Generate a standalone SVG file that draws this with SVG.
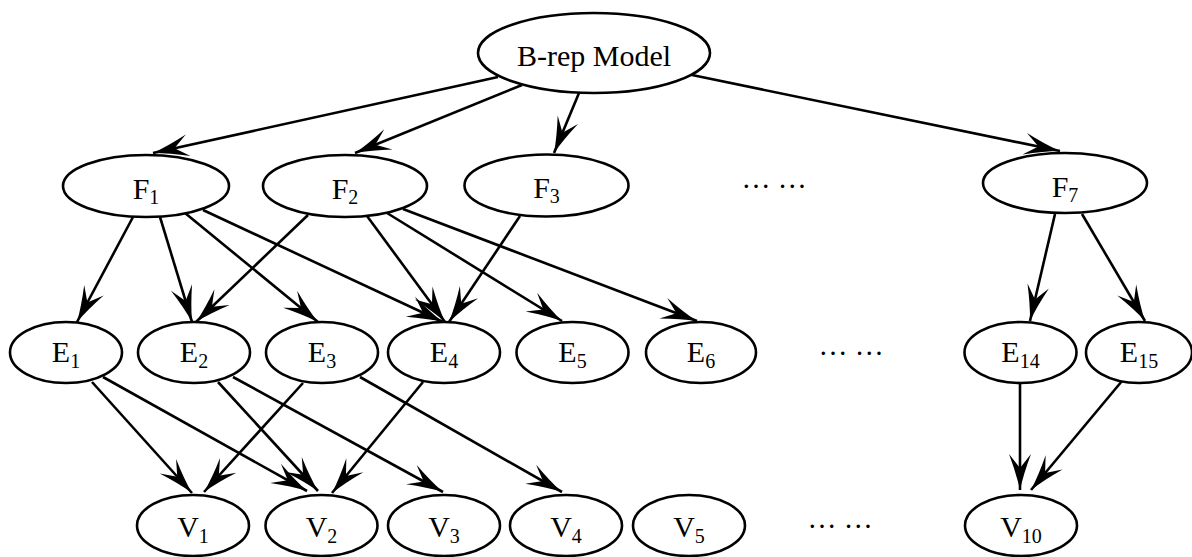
<svg xmlns="http://www.w3.org/2000/svg" width="1192" height="557" viewBox="0 0 1192 557">
<defs>
<style>
.n ellipse{fill:#fff;stroke:#000;stroke-width:2.6}
.n text{font-family:"Liberation Serif","Times New Roman",serif;font-size:30px;fill:#000;text-anchor:middle}
.sub{font-size:20px}
.dots{font-family:"Liberation Serif","Times New Roman",serif;font-size:29px;fill:#000;text-anchor:middle}
#edges path{fill:none;stroke:#000;stroke-width:2.6;marker-end:url(#ah)}
</style>
<marker id="ah" markerUnits="userSpaceOnUse" viewBox="-38 -12 40 24" markerWidth="40" markerHeight="24" refX="0" refY="0" orient="auto">
<path d="M0,0 Q-16,-3.5 -36,-11 L-22,0 L-36,11 Q-16,3.5 0,0 Z" fill="#000"/>
</marker>
</defs>
<rect width="1192" height="557" fill="#fff"/>
<g id="edges">
<path d="M498,77 L153,153"/>
<path d="M522,85 L355,153"/>
<path d="M579,93 L554,153"/>
<path d="M692,75 L1060,151"/>
<path d="M133,217 L77,322"/>
<path d="M160,217 L192,322"/>
<path d="M185,213 L318,322"/>
<path d="M203,210 L443,322"/>
<path d="M308,215 L196,322"/>
<path d="M367,216 L445,322"/>
<path d="M387,213 L562,321"/>
<path d="M403,209 L697,321"/>
<path d="M520,216 L449,322"/>
<path d="M1055,214 L1030,321"/>
<path d="M1082,214 L1145,321"/>
<path d="M92,382 L192,493"/>
<path d="M103,377 L307,491"/>
<path d="M218,382 L318,491"/>
<path d="M233,377 L443,492"/>
<path d="M303,383 L204,492"/>
<path d="M360,377 L562,492"/>
<path d="M423,382 L332,493"/>
<path d="M1020,383 L1020,490"/>
<path d="M1122,381 L1031,490"/>
</g>
<g id="brep" class="n"><ellipse cx="594" cy="53" rx="116" ry="40"/><text x="594" y="66" style="font-size:30px">B-rep Model</text></g>
<g id="F1" class="n"><ellipse cx="146" cy="186" rx="83" ry="31"/><text x="146" y="199">F<tspan class="sub" dy="5">1</tspan></text></g>
<g id="F2" class="n"><ellipse cx="345" cy="186" rx="82" ry="31"/><text x="345" y="199">F<tspan class="sub" dy="5">2</tspan></text></g>
<g id="F3" class="n"><ellipse cx="546.5" cy="185.5" rx="82" ry="31"/><text x="546.5" y="198">F<tspan class="sub" dy="5">3</tspan></text></g>
<g id="F7" class="n"><ellipse cx="1065" cy="183" rx="82" ry="30"/><text x="1065" y="197">F<tspan class="sub" dy="5">7</tspan></text></g>
<g id="E1" class="n"><ellipse cx="66" cy="352.5" rx="56" ry="30.5"/><text x="66" y="362">E<tspan class="sub" dy="6">1</tspan></text></g>
<g id="E2" class="n"><ellipse cx="194" cy="352.5" rx="56" ry="30.5"/><text x="194" y="362">E<tspan class="sub" dy="6">2</tspan></text></g>
<g id="E3" class="n"><ellipse cx="322" cy="352.5" rx="56" ry="30.5"/><text x="322" y="362">E<tspan class="sub" dy="6">3</tspan></text></g>
<g id="E4" class="n"><ellipse cx="444" cy="352.5" rx="56" ry="30.5"/><text x="444" y="362">E<tspan class="sub" dy="6">4</tspan></text></g>
<g id="E5" class="n"><ellipse cx="572.5" cy="352.5" rx="56" ry="30.5"/><text x="572.5" y="362">E<tspan class="sub" dy="6">5</tspan></text></g>
<g id="E6" class="n"><ellipse cx="701" cy="352.5" rx="55" ry="30.5"/><text x="701" y="362">E<tspan class="sub" dy="6">6</tspan></text></g>
<g id="E14" class="n"><ellipse cx="1020.5" cy="352.5" rx="56" ry="30.5"/><text x="1020.5" y="362">E<tspan class="sub" dy="6">14</tspan></text></g>
<g id="E15" class="n"><ellipse cx="1139" cy="352.5" rx="53" ry="30.5"/><text x="1139" y="362">E<tspan class="sub" dy="6">15</tspan></text></g>
<g id="V1" class="n"><ellipse cx="193" cy="525.5" rx="56" ry="30.5"/><text x="193" y="537">V<tspan class="sub" dy="6">1</tspan></text></g>
<g id="V2" class="n"><ellipse cx="321.5" cy="525.5" rx="56" ry="30.5"/><text x="321.5" y="537">V<tspan class="sub" dy="6">2</tspan></text></g>
<g id="V3" class="n"><ellipse cx="444" cy="525.5" rx="56" ry="30.5"/><text x="444" y="537">V<tspan class="sub" dy="6">3</tspan></text></g>
<g id="V4" class="n"><ellipse cx="566" cy="525.5" rx="56" ry="30.5"/><text x="566" y="537">V<tspan class="sub" dy="6">4</tspan></text></g>
<g id="V5" class="n"><ellipse cx="689" cy="525.5" rx="56" ry="30.5"/><text x="689" y="537">V<tspan class="sub" dy="6">5</tspan></text></g>
<g id="V10" class="n"><ellipse cx="1021" cy="525.5" rx="56" ry="30.5"/><text x="1021" y="537">V<tspan class="sub" dy="6">10</tspan></text></g>
<text class="dots" x="774" y="188">… …</text>
<text class="dots" x="851" y="355">… …</text>
<text class="dots" x="840" y="528">… …</text>
</svg>
